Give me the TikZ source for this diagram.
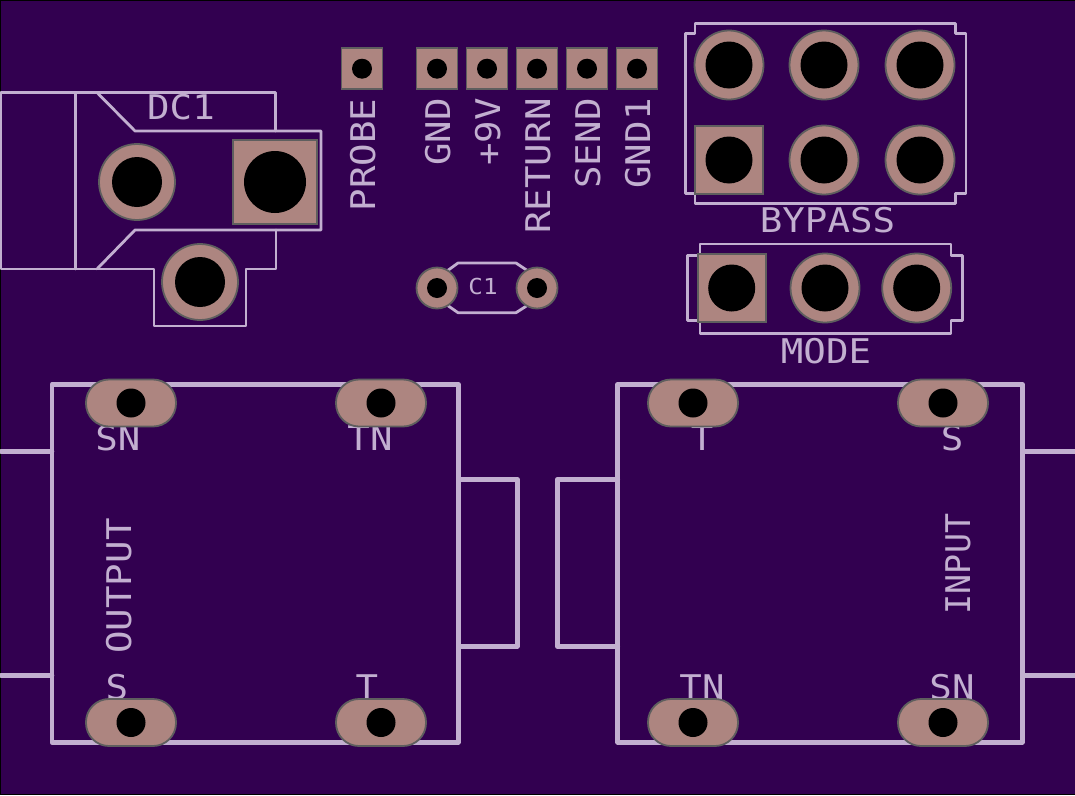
\documentclass[tikz,border=0pt]{standalone}
\usepackage{fontspec}
\newfontfamily\silkfont{DejaVu Sans Mono}
\definecolor{boardbg}{HTML}{320050}
\definecolor{silk}{HTML}{C2AFD0}
\definecolor{padfill}{HTML}{AD8580}
\definecolor{padline}{HTML}{5E5E5E}
\tikzset{
  x=1pt,y=-1pt,
  silkthin/.style={draw=silk,line width=2.8pt,line join=round,line cap=round},
  silkthick/.style={draw=silk,line width=4.6pt,line join=round,line cap=round},
  padbase/.style={draw=padline,fill=padfill,line width=1.8pt,inner sep=0pt,outer sep=0pt},
  roundpad/.style n args={1}{padbase,circle,minimum size=#1},
  squarepad/.style={padbase,rectangle,minimum size=#1},
  ovalpad/.style={padbase,rectangle,rounded corners=23pt,minimum width=90pt,minimum height=47pt},
  hole/.style={fill=black,circle,inner sep=0pt,outer sep=0pt,minimum size=#1},
  silktext/.style={text=silk,inner sep=0pt,outer sep=0pt,anchor=base,font=\silkfont\fontsize{34}{34}\selectfont,xscale=1.1},
  silkside/.style={rotate=90,silktext},
  smalltext/.style={silktext,font=\silkfont\fontsize{22}{22}\selectfont},
}
\begin{document}
\begin{tikzpicture}
\useasboundingbox (0,0) rectangle (1075,795);
\fill[boardbg] (0,0) rectangle (1075,795);
\fill[black] (0,0) rectangle (1075,1);
\fill[black] (0,0) rectangle (1,795);
\fill[black] (0,793.5) rectangle (1075,795);

% DC1 outline
\draw[silkthin] (1,92.5) -- (275.5,92.5) -- (275.5,131);
\draw[silkthin] (1,92.5) -- (1,269) -- (154,269) -- (154,326) -- (246,326) -- (246,269) -- (276,269) -- (276,230);
\draw[silkthin] (75.5,92.5) -- (75.5,269);
\draw[silkthin] (97,92.5) -- (135,131) -- (321,131) -- (321,230) -- (135,230) -- (97,269);

% C1 outline
\draw[silkthin] (447,271) -- (458,263) -- (516,263) -- (528,271);
\draw[silkthin] (447,305) -- (458,312.7) -- (516,312.7) -- (528,305);

% BYPASS outline
\draw[silkthin] (695,23.5) -- (955.7,23.5) -- (955.7,33.5) -- (966,33.5) -- (966,193.5) -- (955.7,193.5) -- (955.7,203.3) -- (695,203.3) -- (695,193.5) -- (685.3,193.5) -- (685.3,33.5) -- (695,33.5) -- cycle;

% MODE outline
\draw[silkthin] (700,244) -- (951,244) -- (951,255.7) -- (962.7,255.7) -- (962.7,320.7) -- (951,320.7) -- (951,333.3) -- (700,333.3) -- (700,320.7) -- (687.3,320.7) -- (687.3,255.7) -- (700,255.7) -- cycle;

% OUTPUT jack
\draw[silkthick] (52,384.3) -- (458.3,384.3) -- (458.3,742.3) -- (52,742.3) -- cycle;
\draw[silkthick] (1,451.3) -- (52,451.3);
\draw[silkthick] (1,675.3) -- (52,675.3);
\draw[silkthick] (458.3,479.3) -- (517.3,479.3) -- (517.3,646.3) -- (458.3,646.3);

% INPUT jack
\draw[silkthick] (617.7,384.3) -- (1022.3,384.3) -- (1022.3,742.3) -- (617.7,742.3) -- cycle;
\draw[silkthick] (1022.3,451.3) -- (1075,451.3);
\draw[silkthick] (1022.3,675.3) -- (1075,675.3);
\draw[silkthick] (617.7,479.3) -- (557.3,479.3) -- (557.3,646.3) -- (617.7,646.3);

% Texts
\node[silktext] (tDC) at (181,119) {DC1};
\node[silkside] (tProbe) at (375,155) {PROBE};
\node[silkside] (tGnd) at (450,132) {GND};
\node[silkside] (tNine) at (500,132) {+9V};
\node[silkside] (tReturn) at (550,166) {RETURN};
\node[silkside] (tSend) at (600,143.5) {SEND};
\node[silkside] (tGndOne) at (650,143.5) {GND1};
\node[smalltext] (tCap) at (483,294) {C1};
\node[silktext] (tBypass) at (827.5,232.7) {BYPASS};
\node[silktext] (tMode) at (826,363) {MODE};
\node[silktext] (tOutSN) at (118,450.7) {SN};
\node[silktext] (tOutTN) at (370,450.7) {TN};
\node[silktext] (tInT) at (702,450.7) {T};
\node[silktext] (tInS) at (952,450.7) {S};
\node[silkside] (tOutput) at (131,586) {OUTPUT};
\node[silkside,xscale=0.89] (tInput) at (970,564) {INPUT};
\node[silktext] (tOutS) at (117,699.3) {S};
\node[silktext] (tOutT) at (367,699.3) {T};
\node[silktext] (tInTN) at (702,699.3) {TN};
\node[silktext] (tInSN) at (952,699.3) {SN};

% DC1 pads
\node[roundpad=76pt] (dcA) at (137,182) {};
\node[hole=50pt] at (dcA) {};
\node[squarepad=84pt] (dcB) at (275,182) {};
\node[hole=62pt] at (dcB) {};
\node[roundpad=76pt] (dcC) at (200,282) {};
\node[hole=50pt] at (dcC) {};

% Header pads
\foreach \n/\px in {probe/362,gnd/437,nine/487,ret/537,send/587,gndone/637}{
  \node[squarepad=41pt] (hp\n) at (\px,68.7) {};
  \node[hole=20pt] at (hp\n) {};
}

% C1 pads
\foreach \n/\px in {a/437,b/537}{
  \node[roundpad=41pt] (cap\n) at (\px,288) {};
  \node[hole=20pt] at (cap\n) {};
}

% BYPASS pads
\foreach \n/\px/\py in {a/729/65,b/824/65,c/920/65,e/824/160,f/920/160}{
  \node[roundpad=69pt] (by\n) at (\px,\py) {};
  \node[hole=47pt] at (by\n) {};
}
\node[squarepad=68pt] (byd) at (729,160) {};
\node[hole=47pt] at (byd) {};

% MODE pads
\node[squarepad=68pt] (moa) at (731.7,288) {};
\node[hole=47pt] at (moa) {};
\foreach \n/\px in {b/825,c/916.7}{
  \node[roundpad=69pt] (mo\n) at (\px,288) {};
  \node[hole=47pt] at (mo\n) {};
}

% Jack pads
\foreach \n/\px/\py in {a/131/403,b/381/403,c/131/722.5,d/381/722.5,e/693/403,f/943/403,g/693/722.5,h/943/722.5}{
  \node[ovalpad] (jk\n) at (\px,\py) {};
  \node[hole=29pt] at (jk\n) {};
}
\end{tikzpicture}
\end{document}
